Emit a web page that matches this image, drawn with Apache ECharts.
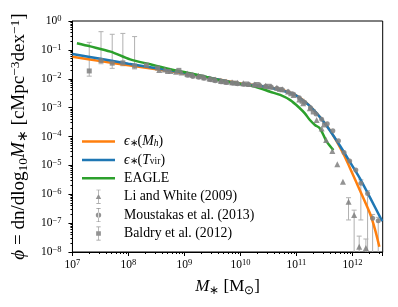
<!DOCTYPE html>
<html><head><meta charset="utf-8">
<script src="https://cdn.jsdelivr.net/npm/echarts@6/dist/echarts.min.js"></script>
<style>html,body{margin:0;padding:0;background:#fff}#c{width:398px;height:307px}</style>
</head><body><div id="c"></div>
<script>
// ---- data (log10 values) ----
const xRange = [7, 12.54];          // log10 M* axis extent
const yRange = [-8, 0];             // log10 phi axis extent

const mhLogMass = [7.00,7.50,8.00,8.50,9.00,9.50,10.00,10.30,10.60,10.80,11.00,11.20,11.40,11.60,11.83,11.955,12.13,12.31,12.40,12.48];
const mhLogPhi  = [-1.24,-1.39,-1.53,-1.67,-1.82,-1.98,-2.16,-2.23,-2.33,-2.42,-2.58,-2.87,-3.28,-3.79,-4.57,-5.09,-5.85,-6.65,-7.20,-7.82];

const tvLogMass = [7.00,7.50,8.00,8.50,9.00,9.50,10.00,10.35,10.71,10.975,11.064,11.24,11.42,11.60,11.78,11.955,12.13,12.31,12.53];
const tvLogPhi  = [-1.14,-1.31,-1.48,-1.64,-1.80,-1.98,-2.18,-2.25,-2.39,-2.56,-2.68,-2.95,-3.33,-3.80,-4.33,-4.88,-5.44,-6.10,-6.93];

const eagleLogMass = [7.08,7.32,7.68,8.03,8.39,8.75,9.10,9.46,9.64,10.00,10.14,10.35,10.53,10.71,10.89,11.06,11.15,11.24,11.33,11.42,11.54,11.66];
const eagleLogPhi  = [-0.77,-0.88,-1.06,-1.33,-1.50,-1.67,-1.81,-1.97,-2.06,-2.18,-2.22,-2.33,-2.45,-2.56,-2.74,-3.02,-3.20,-3.43,-3.60,-3.72,-4.18,-4.47];

const lwLogMass = [8.55,8.65,8.75,8.85,8.95,9.05,9.15,9.25,9.35,9.45,9.55,9.65,9.75,9.85,9.95,10.05,10.15,10.25,10.35,10.45,10.55,10.65,10.75,10.85,10.95,11.05,11.12,11.24,11.36,11.45,11.53,11.64,11.73,11.83,11.93,12.03,12.12,12.24];
const lwLogPhi  = [-1.70,-1.68,-1.73,-1.76,-1.78,-1.82,-1.86,-1.90,-1.95,-1.99,-2.03,-2.07,-2.10,-2.12,-2.14,-2.16,-2.18,-2.20,-2.22,-2.24,-2.27,-2.31,-2.36,-2.44,-2.56,-2.72,-2.85,-3.02,-3.43,-3.72,-4.12,-4.50,-4.96,-5.57,-6.26,-6.72,-7.82,-7.86];
const lwErrTop    = [null,null,null,null,null,null,null,null,null,null,null,null,null,null,null,null,null,null,null,null,null,null,null,null,null,null,null,null,null,null,null,null,null,null,-6.12,-6.55,-7.45,-7.55];
const lwErrBottom = [null,null,null,null,null,null,null,null,null,null,null,null,null,null,null,null,null,null,null,null,null,null,null,null,null,null,null,null,null,null,null,null,null,null,-6.89,-9.0,-9.0,-9.0];

const mouLogMass = [9.05,9.15,9.25,9.35,9.45,9.55,9.65,9.75,9.85,9.95,10.05,10.15,10.25,10.35,10.45,10.55,10.65,10.75,10.85,10.95,11.05,11.15,11.25,11.35,11.45,11.55,11.65,11.75,11.85,11.95,12.06,12.15,12.27,12.36,12.46];
const mouLogPhi  = [-1.88,-1.92,-1.95,-1.98,-2.03,-2.07,-2.10,-2.13,-2.15,-2.17,-2.19,-2.20,-2.22,-2.24,-2.26,-2.29,-2.33,-2.38,-2.45,-2.54,-2.66,-2.82,-3.00,-3.22,-3.40,-3.56,-3.80,-4.15,-4.55,-4.85,-5.16,-5.62,-5.97,-6.83,-6.92];
const mouErrTop    = [null,null,null,null,null,null,null,null,null,null,null,null,null,null,null,null,null,null,null,null,null,null,null,null,null,null,null,null,null,null,null,-5.50,-5.88,-6.70,-6.80];
const mouErrBottom = [null,null,null,null,null,null,null,null,null,null,null,null,null,null,null,null,null,null,null,null,null,null,null,null,null,null,null,null,null,null,null,-6.89,-9.0,-9.0,-9.0];

const balLogMass = [7.30,7.51,7.71,7.90,8.11,8.32,8.52,8.70,8.90,9.10,9.30,9.50,9.70,9.90,10.10,10.30,10.50,10.70,10.90,11.10,11.30,11.50];
const balLogPhi  = [-1.73,-1.37,-1.46,-1.45,-1.56,-1.53,-1.63,-1.75,-1.71,-1.87,-1.93,-2.03,-2.10,-2.15,-2.18,-2.20,-2.26,-2.37,-2.52,-2.78,-3.15,-3.60];
const balErrTop    = [-0.74,-0.37,-0.46,-0.43,-0.54,null,null,null,null,null,null,null,null,null,null,null,null,null,null,null,null,null];
const balErrBottom = [-1.91,-1.48,-1.64,-1.55,-1.66,null,null,null,null,null,null,null,null,null,null,null,null,null,null,null,null,null];

// ---- build ----
const P = v => Math.pow(10, v);
const pts = (m, p) => m.map((v, i) => [P(v), P(p[i])]);
const errs = (m, t, b) => m.map((v, i) => t[i] == null ? null : [P(v), P(b[i]), P(t[i])]).filter(d => d);

const FONT = 'Liberation Serif';
const GRAY = '#808080';
const ERR = '#b0b0b0';

function tickFmt(v) {
  const l = Math.log10(v), e = Math.round(l);
  if (Math.abs(l - e) > 1e-6) return '';
  return '{b|10}{sup|' + (e < 0 ? '\u2212' + (-e) : e) + '}';
}
const tickRich = {
  b: {fontFamily: FONT, fontSize: 11.5, lineHeight: 14, color: '#000'},
  sup: {fontFamily: FONT, fontSize: 8.5, lineHeight: 8, verticalAlign: 'top', color: '#000'}
};

function errSeries(data) {
  return {
    type: 'custom', data: data, z: 1, silent: true, clip: true,
    encode: {x: 0, y: [1, 2]},
    renderItem: function (params, api) {
      const x = api.value(0);
      const a = api.coord([x, api.value(2)]);
      const b = api.coord([x, api.value(1)]);
      const c = 2.5, st = {stroke: ERR, lineWidth: 1};
      return {type: 'group', children: [
        {type: 'line', shape: {x1: a[0], y1: a[1], x2: b[0], y2: b[1]}, style: st},
        {type: 'line', shape: {x1: a[0] - c, y1: a[1], x2: a[0] + c, y2: a[1]}, style: st},
        {type: 'line', shape: {x1: b[0] - c, y1: b[1], x2: b[0] + c, y2: b[1]}, style: st}
      ]};
    }
  };
}

const iconLine = 'path://M0 0h33v2.5h-33z';
const barPath = 'M2.2 0h0.6v13h-0.6zM0.5 0h4v0.6h-4zM0.5 12.4h4v0.6h-4z';
const iconTri = 'path://' + barPath + 'M2.5 4L5 8.6L0 8.6z';
const iconCir = 'path://' + barPath + 'M0 6.5a2.5 2.5 0 1 0 5 0a2.5 2.5 0 1 0 -5 0z';
const iconSq  = 'path://' + barPath + 'M0.3 4.3h4.4v4.4h-4.4z';

const legendText = {
  'Mh': '{i|\u03f5}{sb|\u2217}{n|(}{i|M}{sbi|h}{n|)}',
  'Tvir': '{i|\u03f5}{sb|\u2217}{n|(}{i|T}{sb|vir}{n|)}',
  'EAGLE': '{n|EAGLE}',
  'LW': '{n|Li and White (2009)}',
  'Mou': '{n|Moustakas et al. (2013)}',
  'Bal': '{n|Baldry et al. (2012)}'
};

const option = {
  animation: false,
  backgroundColor: '#fff',
  grid: {left: 72, top: 21, width: 310.7, height: 231, show: true, borderColor: '#000', borderWidth: 1},
  xAxis: {
    type: 'log', logBase: 10, min: P(xRange[0]), max: P(xRange[1]),
    axisLine: {lineStyle: {color: '#000', width: 1}},
    axisTick: {show: true, length: 4, lineStyle: {color: '#000'}},
    minorTick: {show: true, splitNumber: 9, length: 2, lineStyle: {color: '#000'}},
    splitLine: {show: false},
    axisLabel: {formatter: tickFmt, rich: tickRich, margin: 6, showMaxLabel: true},
    name: '{i|M}{sb|\u2217}{n| [M}{sb|\u2299}{n|]}', nameLocation: 'middle', nameGap: 25,
    nameTextStyle: {rich: {
      n: {fontFamily: FONT, fontSize: 17, lineHeight: 20, color: '#000'},
      i: {fontFamily: FONT, fontSize: 17, fontStyle: 'italic', lineHeight: 20, color: '#000'},
      sb: {fontFamily: FONT, fontSize: 12, lineHeight: 10, verticalAlign: 'bottom', color: '#000'}
    }}
  },
  yAxis: {
    type: 'log', logBase: 10, min: P(yRange[0]), max: P(yRange[1]),
    axisLine: {lineStyle: {color: '#000', width: 1}},
    axisTick: {show: true, length: 4, lineStyle: {color: '#000'}},
    minorTick: {show: true, splitNumber: 9, length: 2, lineStyle: {color: '#000'}},
    splitLine: {show: false},
    axisLabel: {formatter: tickFmt, rich: tickRich, margin: 11},
    name: '{i|\u03d5}{n| = dn/dlog}{sb|10}{i|M}{sb|\u2217}{n| [cMpc}{sp|\u22123}{n|dex}{sp|\u22121}{n|]}',
    nameLocation: 'middle', nameRotate: 90, nameGap: 41,
    nameTextStyle: {rich: {
      n: {fontFamily: FONT, fontSize: 19, lineHeight: 22, color: '#000'},
      i: {fontFamily: FONT, fontSize: 19, fontStyle: 'italic', lineHeight: 22, color: '#000'},
      sb: {fontFamily: FONT, fontSize: 13.5, lineHeight: 11, verticalAlign: 'bottom', color: '#000'},
      sp: {fontFamily: FONT, fontSize: 13.5, lineHeight: 11, verticalAlign: 'top', color: '#000'}
    }}
  },
  legend: {
    left: 82, top: 134.5, orient: 'vertical', padding: 0,
    itemWidth: 33, itemHeight: 14, itemGap: 4.4,
    data: [
      {name: 'Mh', icon: iconLine}, {name: 'Tvir', icon: iconLine}, {name: 'EAGLE', icon: iconLine},
      {name: 'LW', icon: iconTri}, {name: 'Mou', icon: iconCir}, {name: 'Bal', icon: iconSq}
    ],
    formatter: name => legendText[name],
    textStyle: {padding: [0, 0, 0, 4], rich: {
      n: {fontFamily: FONT, fontSize: 13.8, lineHeight: 14, color: '#000'},
      i: {fontFamily: FONT, fontSize: 13.8, fontStyle: 'italic', lineHeight: 14, color: '#000'},
      sb: {fontFamily: FONT, fontSize: 9.5, lineHeight: 7, verticalAlign: 'bottom', color: '#000'},
      sbi: {fontFamily: FONT, fontSize: 9.5, fontStyle: 'italic', lineHeight: 7, verticalAlign: 'bottom', color: '#000'}
    }}
  },
  series: [
    errSeries(errs(balLogMass, balErrTop, balErrBottom)),
    errSeries(errs(lwLogMass, lwErrTop, lwErrBottom)),
    errSeries(errs(mouLogMass, mouErrTop, mouErrBottom)),
    {name: 'Mh', type: 'line', data: pts(mhLogMass, mhLogPhi), symbol: 'none', smooth: 0.3, z: 2,
     lineStyle: {color: '#ff7f0e', width: 2.5}, itemStyle: {color: '#ff7f0e'}},
    {name: 'Tvir', type: 'line', data: pts(tvLogMass, tvLogPhi), symbol: 'none', smooth: 0.3, z: 2,
     lineStyle: {color: '#1f77b4', width: 2.5}, itemStyle: {color: '#1f77b4'}},
    {name: 'EAGLE', type: 'line', data: pts(eagleLogMass, eagleLogPhi), symbol: 'none', smooth: 0.3, z: 2,
     lineStyle: {color: '#2ca02c', width: 2.5}, itemStyle: {color: '#2ca02c'}},
    {name: 'LW', type: 'scatter', data: pts(lwLogMass, lwLogPhi), symbol: 'triangle', symbolSize: 6, z: 3,
     itemStyle: {color: GRAY, opacity: 0.85}},
    {name: 'Mou', type: 'scatter', data: pts(mouLogMass, mouLogPhi), symbol: 'circle', symbolSize: 5, z: 3,
     itemStyle: {color: GRAY, opacity: 0.85}},
    {name: 'Bal', type: 'scatter', data: pts(balLogMass, balLogPhi), symbol: 'rect', symbolSize: 5, z: 3,
     itemStyle: {color: GRAY, opacity: 0.85}}
  ]
};
const chart = echarts.init(document.getElementById('c'), null, {renderer: 'canvas'});
chart.setOption(option);
</script></body></html>
